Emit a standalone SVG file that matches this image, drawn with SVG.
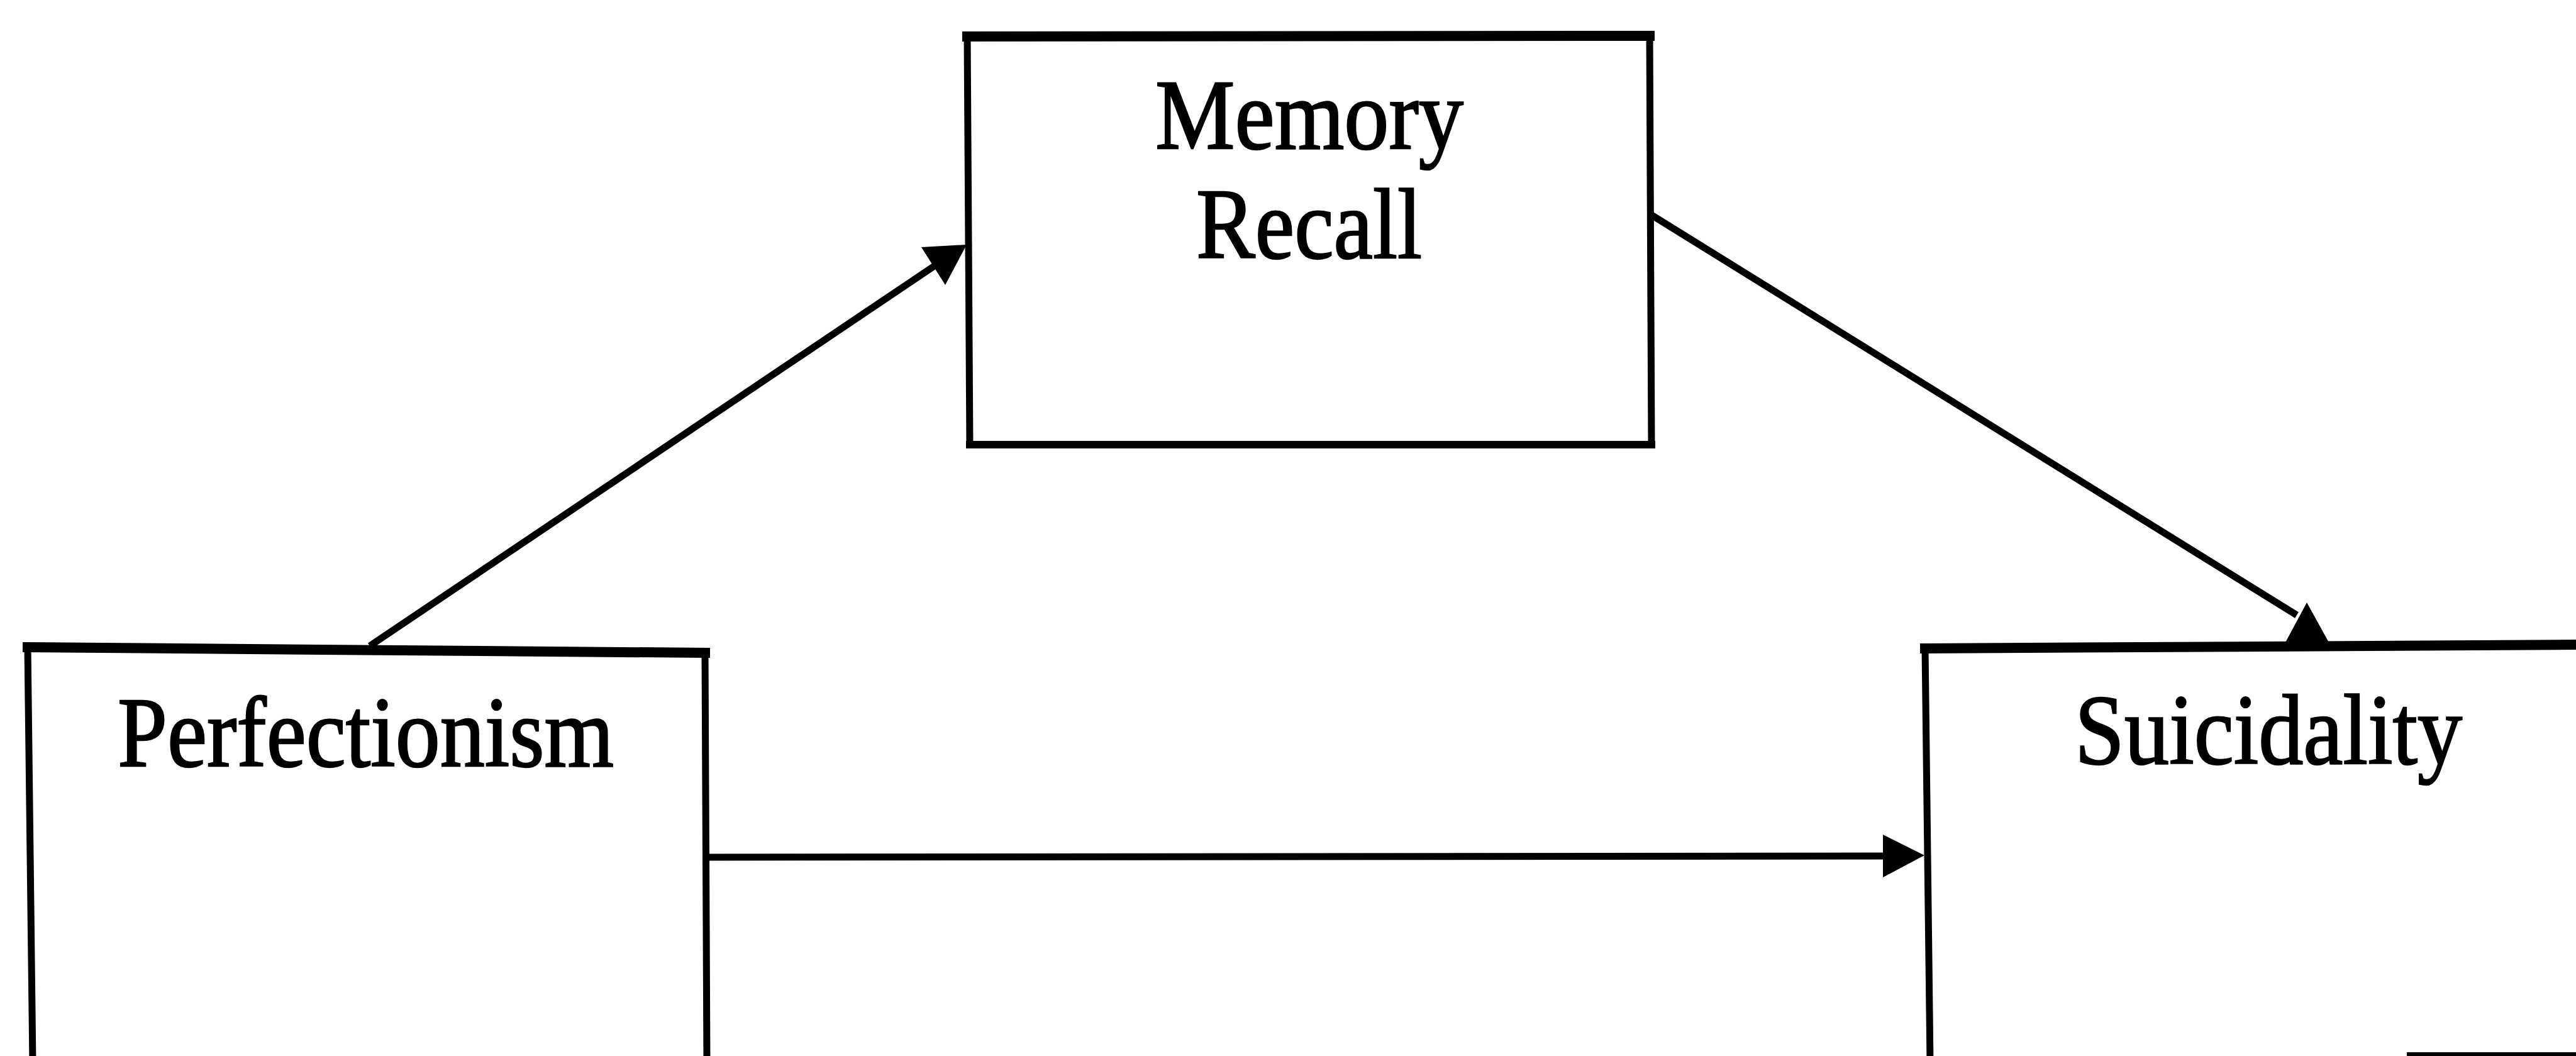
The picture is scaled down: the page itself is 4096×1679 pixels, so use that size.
<svg xmlns="http://www.w3.org/2000/svg" width="4096" height="1679" viewBox="0 0 4096 1679">
<style>
.edge{stroke:#000;fill:none;stroke-linecap:square}
.top{stroke-width:16}
.side{stroke-width:11}
.lbl{font-family:"Liberation Serif","Times New Roman",serif;font-size:158px;fill:#000;stroke:#000;stroke-width:2.5}
.conn{stroke:#000;stroke-width:11;fill:none}
.head{fill:#000;stroke:none}
</style>
<rect width="4096" height="1679" fill="#fff"/>
<g id="node-memory-recall">
<path class="edge top" d="M1538,58 L2623,57"/>
<path class="edge side" d="M1538,58 L1542,707"/>
<path class="edge side" d="M2623,57 L2626,707"/>
<path class="edge" stroke-width="12" d="M1542,707 L2626,707"/>
<text class="lbl" x="1837" y="236" textLength="490" lengthAdjust="spacingAndGlyphs">Memory</text>
<text class="lbl" x="1902" y="410" textLength="359" lengthAdjust="spacingAndGlyphs">Recall</text>
</g>
<g id="node-perfectionism">
<path class="edge top" d="M44,1029 L1121,1038"/>
<path class="edge side" d="M44,1029 L52,1690"/>
<path class="edge side" d="M1121,1038 L1124,1690"/>
<text class="lbl" x="187" y="1218" textLength="789" lengthAdjust="spacingAndGlyphs">Perfectionism</text>
</g>
<g id="node-suicidality">
<path class="edge top" d="M3061,1031 L4110,1025"/>
<path class="edge side" d="M3061,1031 L3069,1690"/>
<path class="edge" stroke-width="6" d="M3830,1676 L4110,1676"/>
<text class="lbl" x="3299" y="1214" textLength="616" lengthAdjust="spacingAndGlyphs">Suicidality</text>
</g>
<g id="connectors">
<path class="conn" d="M588,1027 L1490,420"/>
<polygon class="head" points="1537,389 1465,393 1503,453"/>
<path class="conn" d="M2623,340 L3652,978"/>
<polygon class="head" points="3668,958 3632,1025 3705,1025"/>
<path class="conn" d="M1124,1363 L3000,1361"/>
<polygon class="head" points="3060,1360 2994,1327 2994,1395"/>
</g>
</svg>
